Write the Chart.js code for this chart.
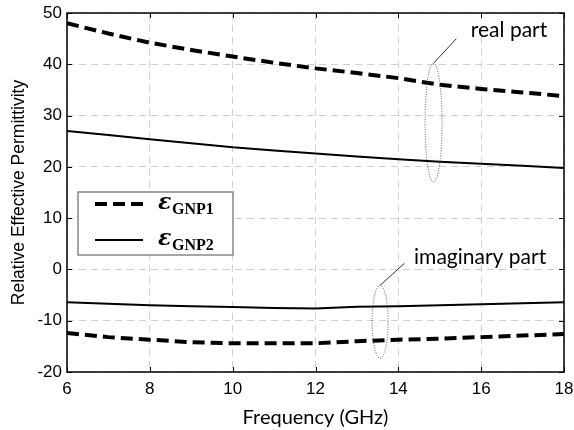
<!DOCTYPE html>
<html><head><meta charset="utf-8">
<script src="https://cdn.jsdelivr.net/npm/chart.js@4"></script>
<style>html,body{margin:0;padding:0;background:#fff}#c{display:block}</style>
</head><body>
<div style="width:574px;height:430px"><canvas id="c" width="574" height="430"></canvas></div>
<script>
const freq = [6,7,8,9,10,11,12,13,14,15,16,17,18];
const gnp1Real = [48.0,46.0,44.2,42.8,41.5,40.3,39.2,38.3,37.3,36.0,35.2,34.5,33.8];
const gnp2Real = [27.0,26.2,25.4,24.6,23.8,23.2,22.6,22.0,21.5,21.0,20.6,20.2,19.8];
const gnp1Imag = [-12.4,-13.2,-13.7,-14.2,-14.4,-14.4,-14.4,-14.0,-13.7,-13.5,-13.2,-12.9,-12.6];
const gnp2Imag = [-6.4,-6.7,-7.0,-7.2,-7.35,-7.5,-7.6,-7.3,-7.2,-7.0,-6.8,-6.6,-6.4];
const xTicks = [6,8,10,12,14,16,18];
const yTicks = [-20,-10,0,10,20,30,40,50];
const legendNames = ['GNP1','GNP2'];

const SANS = "'Liberation Sans', Arial, sans-serif";
const CAL = "Lato, 'Open Sans', sans-serif";

const pts = a => freq.map((f,i)=>({x:f,y:a[i]}));
const dashed = {borderColor:'#000',borderWidth:4,borderDash:[12,6],pointRadius:0,fill:false,tension:0};
const solid = {borderColor:'#000',borderWidth:2,pointRadius:0,fill:false,tension:0};

const framePlugin = {
  id:'frame',
  afterDatasetsDraw(chart){
    const {ctx, chartArea:a, scales:{x,y}} = chart;
    ctx.save();
    ctx.strokeStyle='#000'; ctx.lineWidth=1;
    ctx.beginPath();
    xTicks.forEach(v=>{const px=Math.round(x.getPixelForValue(v))+0.5;
      ctx.moveTo(px,a.bottom); ctx.lineTo(px,a.bottom-5);
      ctx.moveTo(px,a.top); ctx.lineTo(px,a.top+5);});
    yTicks.forEach(v=>{const py=Math.round(y.getPixelForValue(v))+0.5;
      ctx.moveTo(a.left,py); ctx.lineTo(a.left+5,py);
      ctx.moveTo(a.right,py); ctx.lineTo(a.right-5,py);});
    ctx.stroke();
    ctx.lineWidth=1.5;
    ctx.strokeRect(a.left, a.top, a.right-a.left, a.bottom-a.top);

    const ann = [
      {cx:14.85, cy:28.6, ry:11.6, rxPx:8.5, lx1:14.85, ly1:40.2, lx2:15.4, ly2:45.0, text:'real part', tx:15.75, ty:45.4},
      {cx:13.56, cy:-10.2, ry:7.1, rxPx:8, lx1:13.56, ly1:-3.1, lx2:14.15, ly2:1.2, text:'imaginary part', tx:14.38, ty:1.0}
    ];
    ann.forEach(o=>{
      const cx=x.getPixelForValue(o.cx), cy=y.getPixelForValue(o.cy);
      const ry=Math.abs(y.getPixelForValue(o.cy+o.ry)-cy);
      ctx.setLineDash([1,1.5]); ctx.strokeStyle='#555'; ctx.lineWidth=1;
      ctx.beginPath(); ctx.ellipse(cx,cy,o.rxPx,ry,0,0,Math.PI*2); ctx.stroke();
      ctx.setLineDash([]); ctx.strokeStyle='#333';
      ctx.beginPath(); ctx.moveTo(x.getPixelForValue(o.lx1),y.getPixelForValue(o.ly1));
      ctx.lineTo(x.getPixelForValue(o.lx2),y.getPixelForValue(o.ly2)); ctx.stroke();
      ctx.fillStyle='#000'; ctx.font='21px '+CAL; ctx.textAlign='left'; ctx.textBaseline='alphabetic';
      ctx.fillText(o.text, x.getPixelForValue(o.tx), y.getPixelForValue(o.ty));
    });

    const lx=78, ly=192, lw=155, lh=63;
    ctx.fillStyle='#fff'; ctx.fillRect(lx,ly,lw,lh);
    ctx.strokeStyle='#888'; ctx.lineWidth=1.5; ctx.strokeRect(lx,ly,lw,lh);
    const rows=[{y:ly+12,ds:dashed},{y:ly+48,ds:solid}];
    rows.forEach((r,i)=>{
      ctx.strokeStyle='#000'; ctx.lineWidth=r.ds.borderWidth;
      ctx.setLineDash(r.ds.borderDash||[]);
      ctx.beginPath(); ctx.moveTo(95,r.y); ctx.lineTo(143,r.y); ctx.stroke();
      ctx.setLineDash([]);
      ctx.fillStyle='#000'; ctx.textAlign='left'; ctx.textBaseline='alphabetic';
      ctx.font="italic bold 22px 'DejaVu Serif'";
      ctx.fillText('ε',158,r.y+5);
      ctx.font="bold 16px 'Liberation Serif'";
      ctx.fillText(legendNames[i],172,r.y+10);
    });
    ctx.restore();
  }
};

new Chart(document.getElementById('c'),{
  type:'line',
  data:{datasets:[
    {label:'GNP1 real',data:pts(gnp1Real),...dashed},
    {label:'GNP2 real',data:pts(gnp2Real),...solid},
    {label:'GNP1 imag',data:pts(gnp1Imag),...dashed},
    {label:'GNP2 imag',data:pts(gnp2Imag),...solid}
  ]},
  options:{
    responsive:false, animation:false, devicePixelRatio:1,
    layout:{padding:{left:0,right:10,top:13,bottom:0}},
    plugins:{legend:{display:false},tooltip:{enabled:false}},
    scales:{
      x:{type:'linear',min:6,max:18,
        afterBuildTicks(s){s.ticks=xTicks.map(v=>({value:v}));},
        afterFit(s){s.height=58; s.paddingLeft=0; s.paddingRight=0;},
        grid:{color:'#d0d0d0',lineWidth:1,drawTicks:false},
        border:{display:false,dash:[7,5]},
        ticks:{color:'#000',font:{family:SANS,size:17},padding:7,maxRotation:0},
        title:{display:true,text:'Frequency (GHz)',color:'#000',font:{family:CAL,size:20},padding:{top:4,bottom:0}}
      },
      y:{min:-20,max:50,
        afterBuildTicks(s){s.ticks=yTicks.map(v=>({value:v}));},
        afterFit(s){s.width=67; s.paddingTop=0; s.paddingBottom=0;},
        grid:{color:'#d0d0d0',lineWidth:1,drawTicks:false},
        border:{display:false,dash:[7,5]},
        ticks:{color:'#000',font:{family:SANS,size:17},padding:5},
        title:{display:true,text:'Relative Effective Permittivity',color:'#000',font:{family:SANS,size:17.5},padding:{top:9,bottom:0}}
      }
    }
  },
  plugins:[framePlugin]
});
</script>
</body></html>
